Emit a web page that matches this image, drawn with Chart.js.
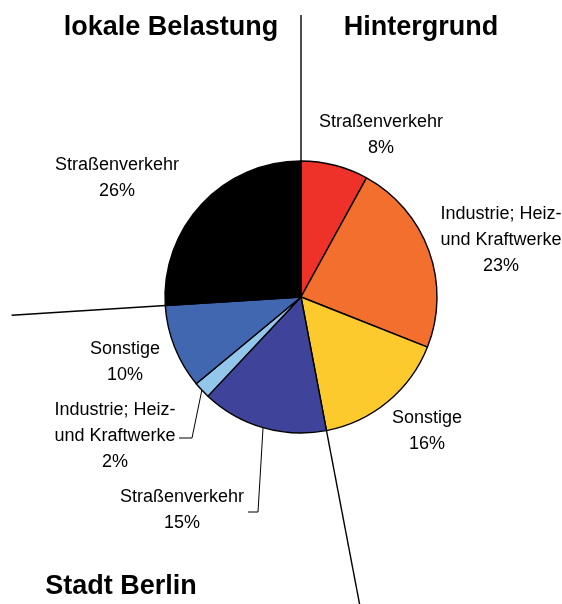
<!DOCTYPE html>
<html>
<head>
<meta charset="utf-8">
<script src="https://cdn.jsdelivr.net/npm/chart.js@4/dist/chart.umd.min.js"></script>
<style>
    body { margin: 0; background: #fff; }
    #wrap { width: 562px; height: 604px; position: relative; }
</style>
</head>
<body>
<div id="wrap"><canvas id="pieChart"></canvas></div>
<script>
// Data (clockwise from 12 o'clock)
const sources = ['Straßenverkehr', 'Industrie; Heiz- und Kraftwerke', 'Sonstige',
                 'Straßenverkehr', 'Industrie; Heiz- und Kraftwerke', 'Sonstige',
                 'Straßenverkehr'];
const shares = [8, 23, 16, 15, 2, 10, 26];
const groupNames = ['Hintergrund', 'Stadt Berlin', 'lokale Belastung'];
const groupSizes = [3, 3, 1];   // number of slices in each group

const sliceColors = ['#ee3129', '#f26f2d', '#fdca2e', '#40439a', '#92c6ea', '#4267b1', '#000000'];

// Label layout: text lines and offset from pie center (x, y of first line)
const labelLines = [
    ['Straßenverkehr'],
    ['Industrie; Heiz-', 'und Kraftwerke'],
    ['Sonstige'],
    ['Straßenverkehr'],
    ['Industrie; Heiz-', 'und Kraftwerke'],
    ['Sonstige'],
    ['Straßenverkehr']
];
const labelOffsets = [[80, -175], [200, -83], [126, 121], [-119, 200], [-186, 113], [-176, 52], [-184, -132]];
// leader elbows (offset from center) for slices with a leader line
const leaderElbows = { 3: [[-43, 215], [-53, 215]], 4: [[-109, 141], [-122, 141]] };
// separator line lengths (from center) at the start of each group
const separatorLengths = [282, 313, 290];
const titlePos = [[421, 28], [121, 587], [171, 28]];

const canvas = document.getElementById('pieChart');

const overlayPlugin = {
    id: 'overlay',
    afterDraw(chart) {
        const ctx = chart.ctx;
        const arcs = chart.getDatasetMeta(0).data;
        const cx = arcs[0].x, cy = arcs[0].y, r = arcs[0].outerRadius;
        const total = shares.reduce((a, b) => a + b, 0);

        ctx.save();
        ctx.strokeStyle = '#000';
        ctx.lineWidth = 1.4;

        // group separators
        let cum = 0, idx = 0;
        groupSizes.forEach((n, g) => {
            const a = -Math.PI / 2 + cum / total * 2 * Math.PI;
            ctx.beginPath();
            ctx.moveTo(cx + r * Math.cos(a), cy + r * Math.sin(a));
            ctx.lineTo(cx + separatorLengths[g] * Math.cos(a), cy + separatorLengths[g] * Math.sin(a));
            ctx.stroke();
            for (let k = 0; k < n; k++) cum += shares[idx++];
        });

        // leader lines
        ctx.lineWidth = 1;
        Object.keys(leaderElbows).forEach(i => {
            const arc = arcs[i];
            const a = (arc.startAngle + arc.endAngle) / 2;
            ctx.beginPath();
            ctx.moveTo(cx + r * Math.cos(a), cy + r * Math.sin(a));
            leaderElbows[i].forEach(p => ctx.lineTo(cx + p[0], cy + p[1]));
            ctx.stroke();
        });

        // slice labels
        ctx.fillStyle = '#000';
        ctx.textAlign = 'center';
        ctx.textBaseline = 'middle';
        ctx.font = '18px "Liberation Sans", Arial, sans-serif';
        labelLines.forEach((lines, i) => {
            const x = cx + labelOffsets[i][0];
            let y = cy + labelOffsets[i][1];
            lines.concat([Math.round(shares[i] / total * 100) + '%']).forEach(t => {
                ctx.fillText(t, x, y);
                y += 26;
            });
        });

        // group titles
        ctx.font = 'bold 27px "Liberation Sans", Arial, sans-serif';
        groupNames.forEach((t, g) => ctx.fillText(t, titlePos[g][0], titlePos[g][1]));
        ctx.restore();
    }
};

new Chart(canvas, {
    type: 'pie',
    data: {
        labels: sources,
        datasets: [{
            data: shares,
            backgroundColor: sliceColors,
            borderColor: '#000',
            borderWidth: 1.4
        }]
    },
    options: {
        responsive: true,
        maintainAspectRatio: false,
        animation: false,
        radius: 136,
        layout: { padding: { left: 40, right: 0, top: 0, bottom: 10 } },
        plugins: {
            legend: { display: false },
            tooltip: { enabled: false }
        }
    },
    plugins: [overlayPlugin]
});
</script>
</body>
</html>
